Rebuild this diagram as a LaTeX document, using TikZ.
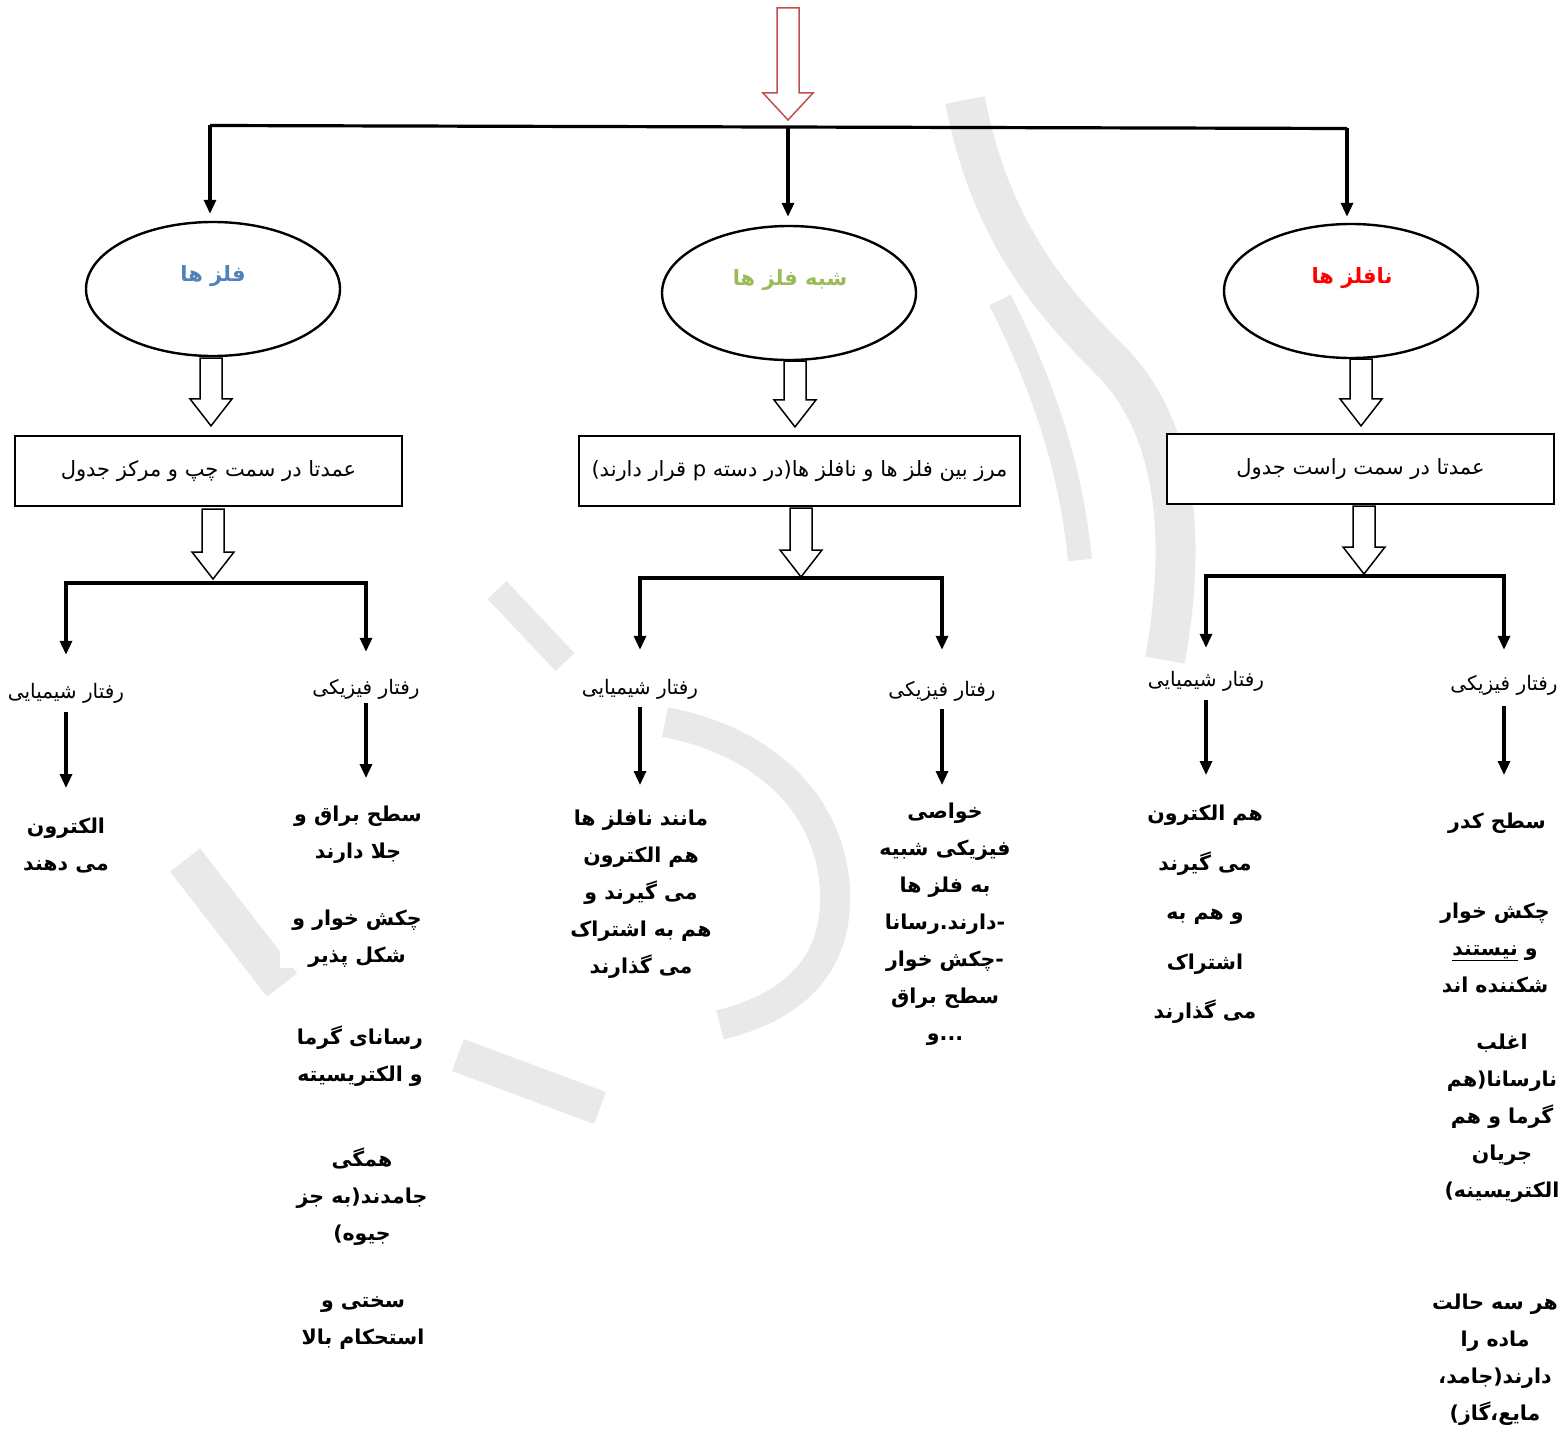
\documentclass[tikz,border=0pt]{standalone}
\usepackage{fontspec}
\usetikzlibrary{shapes.geometric,arrows.meta,calc}
\TeXXeTstate=1
\newfontfamily\fafont[Script=Arabic]{DejaVu Sans}
\newcommand\fa[1]{\beginR #1\endR}
\definecolor{metalblue}{HTML}{4F81BD}
\definecolor{semigreen}{HTML}{9BBB59}
\definecolor{nonred}{HTML}{FF0000}
\definecolor{arrowred}{HTML}{C0504D}
\definecolor{markgray}{HTML}{E9E9E9}

% hollow block arrow pointing down, placed on the x of the first point
\newcommand\blockarrow[6]{%
  \draw[blk,draw=#1] let \p1=(#2), \p2=(#3) in
    (\x1-#4,\y1) -- (\x1+#4,\y1) -- (\x1+#4,\y2+#6) -- (\x1+#5,\y2+#6)
    -- (\x1,\y2) -- (\x1-#5,\y2+#6) -- (\x1-#4,\y2+#6) -- cycle;}

\tikzset{
  conn/.style={line width=3.2pt},
  tip/.style={conn,-{Triangle[width=12pt,length=14pt]}},
  twotips/.style={conn,{Triangle[width=12pt,length=14pt]}-{Triangle[width=12pt,length=14pt]}},
  blk/.style={line width=1.5pt,fill=white,line join=miter},
  wmark/.style={draw=markgray,line cap=butt,line join=round},
  ellnode/.style={ellipse,draw,fill=white,line width=2.4pt,minimum width=254pt,minimum height=134pt,inner sep=0pt},
  elltext/.style={font=\fafont\bfseries\fontsize{21}{22}\selectfont,inner sep=0pt},
  boxnode/.style={draw,fill=white,line width=2.2pt,minimum height=70pt,inner sep=0pt,font=\fafont\fontsize{21}{24}\selectfont},
  lbl/.style={font=\fafont\fontsize{20}{24}\selectfont,fill=white,inner ysep=0pt,inner xsep=14pt,text height=14pt,text depth=6pt},
  body/.style={font=\fafont\bfseries\fontsize{20.5}{37}\selectfont,align=center,fill=white,inner ysep=0pt,inner xsep=12pt,anchor=north},
}

\begin{document}
\begin{tikzpicture}[x=1pt,y=-1pt]
\useasboundingbox (0,0) rectangle (1562,1431);

% faint calligraphic watermark behind the chart
\draw[wmark,line width=40pt] (965,100) .. controls (990,230) and (1050,300) .. (1110,360)
  .. controls (1170,420) and (1190,520) .. (1165,660);
\draw[wmark,line width=24pt] (1000,300) .. controls (1040,380) and (1070,460) .. (1080,560);
\draw[wmark,line width=26pt] (497,590) -- (565,662);
\draw[wmark,line width=30pt] (665,722) .. controls (760,740) and (830,800) .. (835,890)
  .. controls (838,960) and (800,1005) .. (720,1025);
\draw[wmark,line width=38pt] (185,860) -- (282,985);
\draw[wmark,line width=34pt] (458,1055) -- (600,1108);

% top distribution line
\coordinate (title) at (788,8);
\coordinate (t1) at (210,125.5);
\coordinate (t2) at (788,127);
\coordinate (t3) at (1347,128.5);
\blockarrow{arrowred}{title}{$(t2)+(0,-7)$}{11pt}{25pt}{27pt}
\draw[conn] (t1) -- (t3);

% the three groups
\node[ellnode] (e1) at (213,289) {};
\node[ellnode] (e2) at (789,293) {};
\node[ellnode] (e3) at (1351,291) {};
\node[elltext,text=metalblue] (e1t) at (213,276) {\fa{فلز ها}};
\node[elltext,text=semigreen] (e2t) at (790,280) {\fa{شبه فلز ها}};
\node[elltext,text=nonred] (e3t) at (1352,278) {\fa{نافلز ها}};

\draw[tip,shorten >=7pt] (t1) -- (t1 |- e1.north);
\draw[tip,shorten >=8pt] (t2) -- (t2 |- e2.north);
\draw[tip,shorten >=6pt] (t3) -- (t3 |- e3.north);

% position in the table
\node[boxnode,minimum width=387pt] (b1) at (208.5,471) {\fa{عمدتا در سمت چپ و مرکز جدول}};
\node[boxnode,minimum width=441pt] (b2) at (799.5,471) {\fa{مرز بین فلز ها و نافلز ها(در دسته p قرار دارند)}};
\node[boxnode,minimum width=387pt] (b3) at (1360.5,469) {\fa{عمدتا در سمت راست جدول}};

\blockarrow{black}{$(e1.south)+(-2,1)$}{$(b1.north)+(0,-9)$}{11pt}{21pt}{27pt}
\blockarrow{black}{$(e2.south)+(6,0)$}{$(b2.north)+(0,-8)$}{11pt}{21pt}{27pt}
\blockarrow{black}{$(e3.south)+(10,0)$}{$(b3.north)+(0,-7)$}{11pt}{21pt}{27pt}

% branch points
\coordinate (j1) at (213,583);
\coordinate (j2) at (801,578);
\coordinate (j3) at (1364,576);

\blockarrow{black}{$(b1.south)+(4.5,2)$}{$(j1)+(0,-4)$}{11pt}{21pt}{27pt}
\blockarrow{black}{$(b2.south)+(1.5,1)$}{$(j2)+(0,-1)$}{11pt}{21pt}{27pt}
\blockarrow{black}{$(b3.south)+(3.5,1)$}{$(j3)+(0,-2)$}{11pt}{21pt}{27pt}

% behaviour labels
\node[lbl] (l1a) at (66,694) {\fa{رفتار شیمیایی}};
\node[lbl] (l1b) at (366,690) {\fa{رفتار فیزیکی}};
\node[lbl] (l2a) at (640,690) {\fa{رفتار شیمیایی}};
\node[lbl] (l2b) at (942,692) {\fa{رفتار فیزیکی}};
\node[lbl] (l3a) at (1206,682) {\fa{رفتار شیمیایی}};
\node[lbl] (l3b) at (1504,686) {\fa{رفتار فیزیکی}};

\draw[twotips,shorten <=29pt,shorten >=28pt] (l1a.north) |- (j1) -| (l1b.north);
\draw[twotips,shorten <=30pt,shorten >=32pt] (l2a.north) |- (j2) -| (l2b.north);
\draw[twotips,shorten <=24pt,shorten >=26pt] (l3a.north) |- (j3) -| (l3b.north);

% metals
\node[body] (t1a) at (66,818) {\fa{الکترون}\\\fa{می دهند}};
\node[body] (t1b1) at (358,806) {\fa{سطح براق و}\\\fa{جلا دارند}};
\node[body] (t1b2) at (357,910) {\fa{چکش خوار و}\\\fa{شکل پذیر}};
\node[body] (t1b3) at (360,1026) {\fa{رسانای گرما}\\\fa{و الکتریسیته}};
\node[body] (t1b4) at (362,1148) {\fa{همگی}\\\fa{جامدند(به جز}\\\fa{جیوه)}};
\node[body] (t1b5) at (363,1296) {\fa{سختی و}\\\fa{استحکام بالا}};

% metalloids
\node[body] (t2a) at (641,810) {\fa{مانند نافلز ها}\\\fa{هم الکترون}\\\fa{می گیرند و}\\\fa{هم به اشتراک}\\\fa{می گذارند}};
\node[body] (t2b) at (945,803) {\fa{خواصی}\\\fa{فیزیکی شبیه}\\\fa{به فلز ها}\\\fa{دارند.رسانا}-\\\fa{چکش خوار}-\\\fa{سطح براق}\\\fa{و}...};

% non-metals
\node[body,font=\fafont\bfseries\fontsize{20.5}{49.5}\selectfont] (t3a) at (1205,805) {\fa{هم الکترون}\\\fa{می گیرند}\\\fa{و هم به}\\\fa{اشتراک}\\\fa{می گذارند}};
\node[body] (t3b1) at (1497,813) {\fa{سطح کدر}};
\node[body] (t3b2) at (1495,903) {\fa{چکش خوار}\\\fa{و \underline{نیستند}}\\\fa{شکننده اند}};
\node[body] (t3b3) at (1502,1034) {\fa{اغلب}\\\fa{نارسانا(هم}\\\fa{گرما و هم}\\\fa{جریان}\\\fa{الکتریسینه)}};
\node[body] (t3b4) at (1495,1294) {\fa{هر سه حالت}\\\fa{ماده را}\\\fa{دارند(جامد،}\\\fa{مایع،گاز)}};

\draw[tip,shorten <=8pt,shorten >=30pt] (l1a.south) -- (l1a.south |- t1a.north);
\draw[tip,shorten <=3pt,shorten >=28pt] (l1b.south) -- (l1b.south |- t1b1.north);
\draw[tip,shorten <=7pt,shorten >=25pt] (l2a.south) -- (l2a.south |- t2a.north);
\draw[tip,shorten <=7pt,shorten >=18pt] (l2b.south) -- (l2b.south |- t2b.north);
\draw[tip,shorten <=8pt,shorten >=30pt] (l3a.south) -- (l3a.south |- t3a.north);
\draw[tip,shorten <=10pt,shorten >=38pt] (l3b.south) -- (l3b.south |- t3b1.north);
\end{tikzpicture}
\end{document}
